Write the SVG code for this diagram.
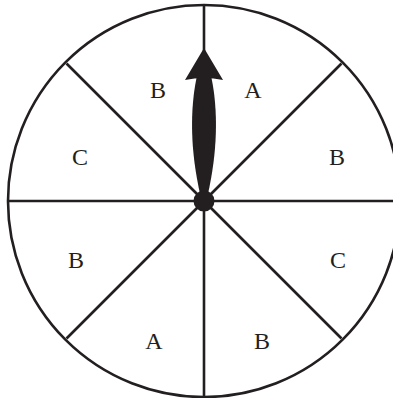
<svg xmlns="http://www.w3.org/2000/svg" width="393" height="398" viewBox="0 0 393 398">
<style>
.ln{stroke:#231f20;stroke-width:2.6;fill:none}
.lb{font-family:"Liberation Serif","Times New Roman",serif;font-size:24px;fill:#231f20;text-anchor:middle}
</style>
<rect width="393" height="398" fill="#fff"/>
<g id="wheel">
<circle class="ln" cx="204" cy="201" r="196"/>
</g>
<g id="connectors">
<line class="ln" x1="204" y1="5" x2="204" y2="397"/>
<line class="ln" x1="8" y1="201" x2="400" y2="201"/>
<line class="ln" x1="66.5" y1="63.5" x2="341.5" y2="338.5"/>
<line class="ln" x1="341.5" y1="63.5" x2="66.5" y2="338.5"/>
</g>
<g id="labels">
<text class="lb" x="158" y="97.5">B</text>
<text class="lb" x="253" y="97.5">A</text>
<text class="lb" x="80" y="165">C</text>
<text class="lb" x="337" y="165">B</text>
<text class="lb" x="76" y="268">B</text>
<text class="lb" x="338" y="268">C</text>
<text class="lb" x="154" y="349">A</text>
<text class="lb" x="262" y="349">B</text>
</g>
<g id="pointer" fill="#231f20">
<path d="M204,48 L223,80 Q204,76 185,80 Z"/>
<path d="M196.5,78 C190,110 190,150 200.5,196 L207.5,196 C218,150 218,110 211.5,78 Z"/>
<circle cx="204" cy="201" r="10.5"/>
</g>
</svg>
